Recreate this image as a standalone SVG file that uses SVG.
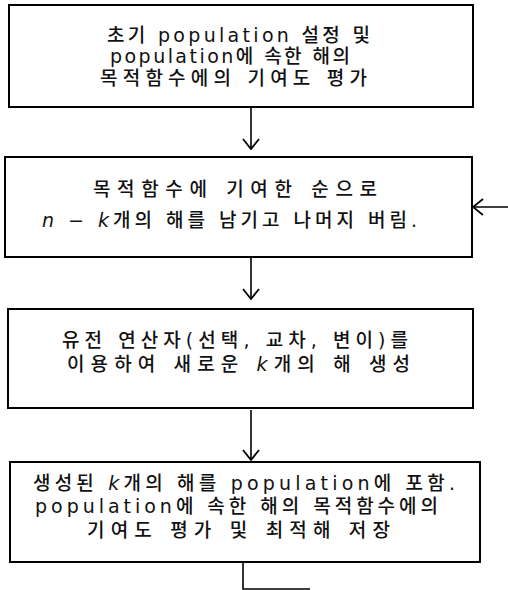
<svg xmlns="http://www.w3.org/2000/svg" width="508" height="590" viewBox="0 0 508 590">
<style>
.box{fill:#fff;stroke:#000;stroke-width:2}
.t{font-family:"DejaVu Sans","Noto Sans CJK KR",sans-serif;font-size:19px;font-weight:500;fill:#111}
.it{font-style:italic}
.c{fill:none;stroke:#000;stroke-width:1.6}
</style>
<defs>
<marker id="ah" markerUnits="userSpaceOnUse" markerWidth="12" markerHeight="18" viewBox="0 0 12 18" refX="11" refY="9" orient="auto">
<path d="M1,1 L11,9 L1,17" fill="none" stroke="#000" stroke-width="1.8"/>
</marker>
</defs>
<rect width="508" height="590" fill="#fff"/>
<g id="node1">
<rect class="box" x="9" y="5" width="464" height="102"/>
<text class="t" x="107" y="42" textLength="263" lengthAdjust="spacing">초기 population 설정 및</text>
<text class="t" x="110" y="63" textLength="240" lengthAdjust="spacing">population에 속한 해의</text>
<text class="t" x="100" y="85" textLength="267" lengthAdjust="spacing">목적함수에의 기여도 평가</text>
</g>
<g id="node2">
<rect class="box" x="5" y="157" width="467" height="100"/>
<text class="t" x="93" y="196" textLength="284" lengthAdjust="spacing">목적함수에 기여한 순으로</text>
<text class="t" x="42" y="227" textLength="375" lengthAdjust="spacing"><tspan class="it">n</tspan> − <tspan class="it">k</tspan>개의 해를 남기고 나머지 버림.</text>
</g>
<g id="node3">
<rect class="box" x="8" y="309" width="465" height="99"/>
<text class="t" x="62" y="347" textLength="346" lengthAdjust="spacing">유전 연산자(선택, 교차, 변이)를</text>
<text class="t" x="67" y="371" textLength="343" lengthAdjust="spacing">이용하여 새로운 <tspan class="it">k</tspan>개의 해 생성</text>
</g>
<g id="node4">
<rect class="box" x="10" y="462" width="470" height="100"/>
<text class="t" x="33" y="490" textLength="422" lengthAdjust="spacing">생성된 <tspan class="it">k</tspan>개의 해를 population에 포함.</text>
<text class="t" x="35" y="513" textLength="403" lengthAdjust="spacing">population에 속한 해의 목적함수에의</text>
<text class="t" x="87" y="537" textLength="303" lengthAdjust="spacing">기여도 평가 및 최적해 저장</text>
</g>
<g id="connectors">
<line class="c" x1="251" y1="107" x2="251" y2="149" marker-end="url(#ah)"/>
<line class="c" x1="251" y1="257" x2="251" y2="299" marker-end="url(#ah)"/>
<line class="c" x1="251" y1="410" x2="251" y2="460" marker-end="url(#ah)"/>
<line class="c" x1="508" y1="207" x2="473" y2="207" marker-end="url(#ah)"/>
<polyline class="c" points="243,562 243,589 310,589"/>
</g>
</svg>
